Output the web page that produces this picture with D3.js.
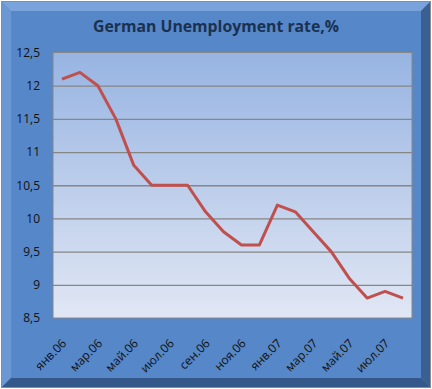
<!DOCTYPE html>
<html>
<head>
<meta charset="utf-8">
<script src="https://cdn.jsdelivr.net/npm/d3@7.9.0/dist/d3.min.js"></script>
<style>
  body { margin: 0; background: #fff; }
  svg { display: block; }
</style>
</head>
<body>
<div id="chart"></div>
<script>
const months = ['янв.06', 'фев.06', 'мар.06', 'апр.06', 'май.06', 'июн.06', 'июл.06', 'авг.06',
    'сен.06', 'окт.06', 'ноя.06', 'дек.06', 'янв.07', 'фев.07', 'мар.07', 'апр.07',
    'май.07', 'июн.07', 'июл.07', 'авг.07'];
const rates = [12.1, 12.2, 12.0, 11.5, 10.8, 10.5, 10.5, 10.5, 10.1, 9.8, 9.6, 9.6,
    10.2, 10.1, 9.8, 9.5, 9.1, 8.8, 8.9, 8.8];
const yTicks = [8.5, 9, 9.5, 10, 10.5, 11, 11.5, 12, 12.5];
const title = 'German Unemployment rate,%';

const width = 432;
const height = 389;
const plot = { left: 53, right: 412, top: 52.5, bottom: 318 };

const svg = d3.select('#chart')
    .append('svg')
    .attr('width', width)
    .attr('height', height);

const defs = svg.append('defs');
const plotGrad = defs.append('linearGradient')
    .attr('id', 'plotGrad')
    .attr('x1', 0).attr('y1', 0).attr('x2', 0).attr('y2', 1);
plotGrad.append('stop').attr('offset', '0%').attr('stop-color', '#97b4e2');
plotGrad.append('stop').attr('offset', '100%').attr('stop-color', '#e1e7f4');

// frame with bevel
svg.append('rect')
    .attr('x', 1.5).attr('y', 1.5)
    .attr('width', width - 3).attr('height', height - 3)
    .attr('fill', '#5687c8')
    .attr('stroke', '#8c8c8c');

const bevel = 9;
const x0 = 2, y0 = 2, x1 = width - 2, y1 = height - 2;
const bevelParts = [
    { pts: [[x0, y0], [x1, y0], [x1 - bevel, y0 + bevel], [x0 + bevel, y0 + bevel]], fill: '#7aa3dc' },
    { pts: [[x0, y0], [x0 + bevel, y0 + bevel], [x0 + bevel, y1 - bevel], [x0, y1]], fill: '#6b97d2' },
    { pts: [[x1, y0], [x1, y1], [x1 - bevel, y1 - bevel], [x1 - bevel, y0 + bevel]], fill: '#3a5f93' },
    { pts: [[x0, y1], [x0 + bevel, y1 - bevel], [x1 - bevel, y1 - bevel], [x1, y1]], fill: '#35588a' },
];
svg.append('g')
    .selectAll('polygon')
    .data(bevelParts)
    .join('polygon')
    .attr('points', (d) => d.pts.map((p) => p.join(',')).join(' '))
    .attr('fill', (d) => d.fill);

// title
svg.append('text')
    .attr('x', 216)
    .attr('y', 32)
    .attr('text-anchor', 'middle')
    .attr('font-family', 'Open Sans, sans-serif')
    .attr('font-weight', 'bold')
    .attr('font-size', 15.8)
    .attr('fill', '#1b3150')
    .text(title);

// plot area
svg.append('rect')
    .attr('x', plot.left).attr('y', plot.top)
    .attr('width', plot.right - plot.left).attr('height', plot.bottom - plot.top)
    .attr('fill', 'url(#plotGrad)')
    .attr('stroke', '#868686');

const xScale = d3.scaleBand()
    .domain(months)
    .range([plot.left, plot.right]);

const yScale = d3.scaleLinear()
    .domain([8.5, 12.5])
    .range([plot.bottom, plot.top]);

// gridlines
svg.append('g')
    .attr('transform', `translate(${plot.left}, 0)`)
    .call(d3.axisLeft(yScale).tickValues(yTicks.slice(1, -1)).tickFormat('').tickSize(-(plot.right - plot.left)))
    .call((g) => g.select('.domain').remove())
    .call((g) => g.selectAll('line').attr('stroke', '#868686').attr('stroke-width', 1.3));

// y labels
svg.append('g')
    .attr('transform', `translate(${plot.left}, 0)`)
    .call(d3.axisLeft(yScale).tickValues(yTicks).tickSize(0).tickPadding(13)
        .tickFormat((d) => String(d).replace('.', ',')))
    .call((g) => g.select('.domain').remove())
    .call((g) => g.selectAll('text')
        .attr('font-family', 'Open Sans, sans-serif')
        .attr('font-size', 12)
        .attr('fill', '#111'));

// x labels (every other month)
svg.append('g')
    .attr('transform', `translate(0, ${plot.bottom})`)
    .call(d3.axisBottom(xScale).tickValues(months.filter((d, i) => i % 2 === 0)).tickSize(0))
    .call((g) => g.select('.domain').remove())
    .call((g) => g.selectAll('text')
        .attr('font-family', 'Open Sans, sans-serif')
        .attr('font-size', 12)
        .attr('fill', '#111')
        .attr('text-anchor', 'end')
        .attr('dy', 0)
        .attr('transform', 'translate(3, 24) rotate(-45)'));

// line
const line = d3.line()
    .x((d, i) => xScale(months[i]) + xScale.bandwidth() / 2)
    .y((d) => yScale(d));

svg.append('path')
    .datum(rates)
    .attr('d', line)
    .attr('fill', 'none')
    .attr('stroke', '#c0504d')
    .attr('stroke-width', 3)
    .attr('stroke-linejoin', 'round');
</script>
</body>
</html>
